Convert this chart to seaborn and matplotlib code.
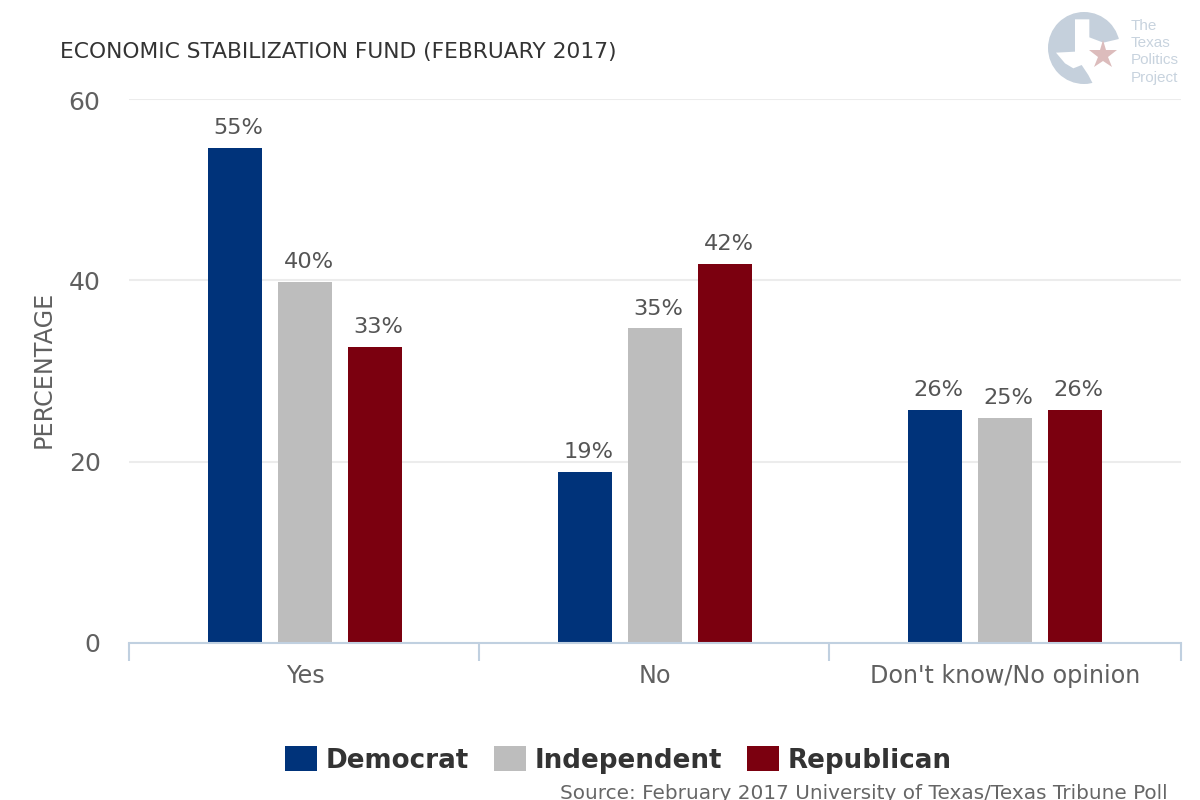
import matplotlib
matplotlib.use('Agg')
import matplotlib.pyplot as plt
import pandas as pd
import seaborn as sns
from matplotlib.patches import Circle, Polygon
from matplotlib.ticker import FixedLocator
from matplotlib.transforms import offset_copy

categories = ['Yes', 'No', "Don't know/No opinion"]
parties = ['Democrat', 'Independent', 'Republican']
democrat = [54.6, 18.9, 25.7]
independent = [39.8, 34.7, 24.8]
republican = [32.7, 41.8, 25.7]
democrat_labels = ['55%', '19%', '26%']
independent_labels = ['40%', '35%', '25%']
republican_labels = ['33%', '42%', '26%']
colors = ['#00337a', '#bdbdbd', '#7b000f']

df = pd.DataFrame({
    'category': categories * 3,
    'party': [p for p in parties for _ in categories],
    'value': democrat + independent + republican,
})

sns.set_style('white')
plt.rcParams['font.family'] = ['DejaVu Sans']

fig = plt.figure(figsize=(12, 8), dpi=100)
ax = fig.add_axes([129 / 1200, 1 - 643 / 800, 1052 / 1200, 544 / 800])

sns.barplot(data=df, x='category', y='value', hue='party', order=categories,
            hue_order=parties, palette=colors, width=0.6, gap=0.2286,
            saturation=1, edgecolor='none', linewidth=0, ax=ax, zorder=2)

x_left = -0.503
x_right = x_left + 1052 / 350
ax.set_xlim(x_left, x_right)
ax.set_ylim(0, 60)
ax.set_yticks([0, 20, 40, 60])
ax.yaxis.grid(True, color='#ececec', linewidth=1.5, zorder=0)
ax.set_axisbelow(True)
for side in ['top', 'left', 'right']:
    ax.spines[side].set_visible(False)
ax.spines['bottom'].set_color('#c0d0e0')
ax.spines['bottom'].set_linewidth(1.5)
ax.spines['bottom'].set_zorder(5)

ax.xaxis.set_minor_locator(FixedLocator([x_left, x_left + 1, x_left + 2, x_right]))
ax.tick_params(axis='x', which='minor', length=13, width=1.5, color='#c0d0e0', bottom=True)
ax.tick_params(axis='x', which='major', length=0, pad=15, labelsize=17.2, labelcolor='#606060')
ax.tick_params(axis='y', length=0, pad=20.5, labelsize=18, labelcolor='#606060')
ax.set_xlabel('')
ax.set_ylabel('PERCENTAGE', fontsize=17.2, color='#606060')
ax.yaxis.set_label_coords(-73 / 1052, 0.5 + 2 / 544)

# top tick label sits a little below its gridline in the original
top_label = ax.get_yticklabels()[-1]
top_label.set_transform(offset_copy(top_label.get_transform(), fig=fig, y=-2, units='dots'))

for bars, labels in zip(ax.containers, [democrat_labels, independent_labels, republican_labels]):
    for text in ax.bar_label(bars, labels=labels, padding=7, fontsize=16.2, color='#555555'):
        text.xyann = (text.xyann[0] + 2.5, text.xyann[1])

handles, labels = ax.get_legend_handles_labels()
ax.legend(handles, labels, loc='center', bbox_to_anchor=(618.5 / 1200, 1 - 760 / 800),
          bbox_transform=fig.transFigure, ncol=3, frameon=False, handlelength=1.225,
          handleheight=1.05, handletextpad=0.33, columnspacing=0.95,
          prop={'size': 18.8, 'weight': 'bold'}, labelcolor='#333333')

fig.text(60 / 1200, 1 - 52 / 800, 'ECONOMIC STABILIZATION FUND (FEBRUARY 2017)',
         fontsize=15.7, color='#333333', va='center')
fig.text(1168 / 1200, 1 - 799 / 800, 'Source: February 2017 University of Texas/Texas Tribune Poll',
         fontsize=14.4, color='#666666', ha='right', va='baseline')

# logo, drawn in pixel coordinates on a see-through overlay
logo = fig.add_axes([0, 0, 1, 1], facecolor='none')
logo.set_xlim(0, 1200)
logo.set_ylim(800, 0)
logo.axis('off')
logo.add_patch(Circle((1084, 48), 36, color='#c5d0dc', lw=0))
texas = [(165, 58), (208, 58), (208, 112), (250, 128), (305, 115), (305, 260), (218, 250),
         (205, 225), (185, 195), (160, 205), (135, 190), (108, 158), (165, 155)]
logo.add_patch(Polygon([(1020 + x / 3, y / 3) for x, y in texas], color='white', lw=0))
logo.plot([1103], [55], marker='*', markersize=21, color='#dcbcbc', mew=0)
for y, word in zip([26, 43, 60, 78], ['The', 'Texas', 'Politics', 'Project']):
    logo.text(1131, y, word, fontsize=11, color='#c8d3de', va='center', family='Liberation Sans')

fig.savefig('out.png', dpi=100)
